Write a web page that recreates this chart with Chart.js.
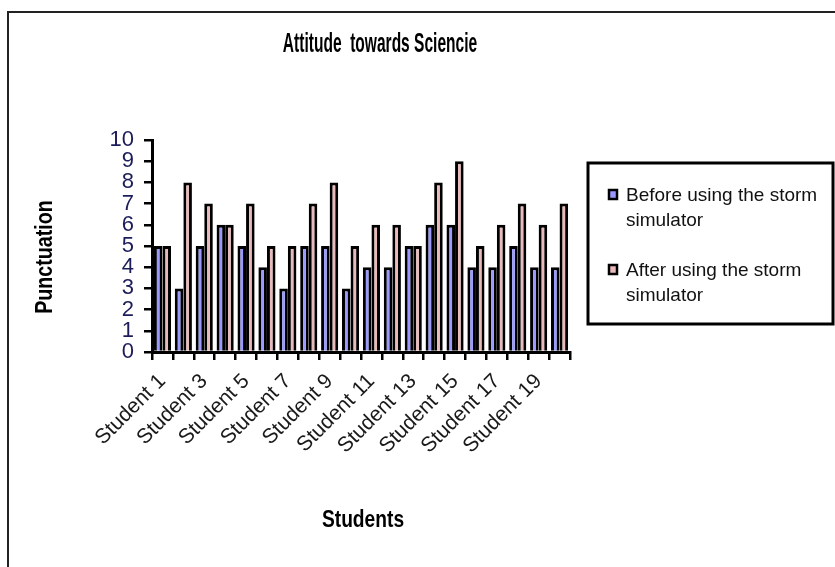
<!DOCTYPE html>
<html>
<head>
<meta charset="utf-8">
<script src="https://cdn.jsdelivr.net/npm/chart.js@4"></script>
<style>
  body { margin: 0; background: #fff; }
  canvas { display: block; }
</style>
</head>
<body>
<canvas id="actitud" width="835" height="567"></canvas>
<script>
const students = ['Student 1', 'Student 2', 'Student 3', 'Student 4', 'Student 5',
    'Student 6', 'Student 7', 'Student 8', 'Student 9', 'Student 10',
    'Student 11', 'Student 12', 'Student 13', 'Student 14', 'Student 15',
    'Student 16', 'Student 17', 'Student 18', 'Student 19', 'Student 20'];
const before = [5, 3, 5, 6, 5, 4, 3, 5, 5, 3, 4, 4, 5, 6, 6, 4, 4, 5, 4, 4];
const after = [5, 8, 7, 6, 7, 5, 5, 7, 8, 5, 6, 6, 5, 8, 9, 5, 6, 7, 6, 7];
const yTicks = [0, 1, 2, 3, 4, 5, 6, 7, 8, 9, 10];
const chartTitle = 'Attitude  towards Sciencie';
const xTitle = 'Students';
const yTitle = 'Punctuation';

const FONT = '"Liberation Sans", Arial, sans-serif';

document.addEventListener('DOMContentLoaded', function () {
    const ctx = document.getElementById('actitud').getContext('2d');

    // texto estrecho (el original esta comprimido en horizontal)
    function narrowText(c, text, x, y, sx, angle) {
        c.save();
        c.translate(x, y);
        if (angle) c.rotate(angle);
        c.scale(sx, 1);
        c.fillText(text, 0, 0);
        c.restore();
    }

    // marco exterior, titulos y leyenda dibujados a mano
    const extras = {
        id: 'extras',
        beforeDraw(chart) {
            const c = chart.ctx;
            c.save();
            c.fillStyle = '#fff';
            c.fillRect(0, 0, chart.width, chart.height);
            c.strokeStyle = '#222';
            c.lineWidth = 2;
            c.strokeRect(8, 12, 900, 700);
            c.restore();
        },
        afterDraw(chart) {
            const c = chart.ctx;
            const area = chart.chartArea;
            c.save();
            c.fillStyle = '#000';
            c.textAlign = 'center';
            c.textBaseline = 'middle';
            c.font = 'bold 28px ' + FONT;
            narrowText(c, chartTitle, 380, 44, 0.555, 0);

            c.font = 'bold 24px ' + FONT;
            narrowText(c, xTitle, (area.left + area.right) / 2 + 2, 520, 0.8, 0);
            narrowText(c, yTitle, 45, 257, 0.82, -Math.PI / 2);

            // leyenda
            c.strokeStyle = '#000';
            c.lineWidth = 3;
            c.strokeRect(588, 163, 245, 161);
            c.font = '19px ' + FONT;
            c.textAlign = 'left';
            chart.data.datasets.forEach(function (ds, i) {
                const y0 = 196 + i * 75;
                c.fillStyle = ds.backgroundColor;
                c.fillRect(609, y0 - 6, 8, 9);
                c.lineWidth = 2.5;
                c.strokeRect(609, y0 - 6, 8, 9);
                c.fillStyle = '#111';
                const words = ds.label.split(' ');
                let line = '';
                let ly = y0;
                words.forEach(function (w) {
                    const test = line ? line + ' ' + w : w;
                    if (c.measureText(test).width > 205 && line) {
                        c.fillText(line, 626, ly);
                        line = w;
                        ly += 25;
                    } else {
                        line = test;
                    }
                });
                c.fillText(line, 626, ly);
            });
            c.restore();
        }
    };

    new Chart(ctx, {
        type: 'bar',
        data: {
            labels: students,
            datasets: [{
                label: 'Before using the storm simulator',
                data: before,
                backgroundColor: '#9999ff',
                borderColor: '#000',
                borderWidth: 3,
                categoryPercentage: 0.82,
                barPercentage: 1
            }, {
                label: 'After using the storm simulator',
                data: after,
                backgroundColor: '#eab9b9',
                borderColor: '#000',
                borderWidth: 3,
                categoryPercentage: 0.82,
                barPercentage: 1
            }]
        },
        options: {
            responsive: false,
            animation: false,
            layout: {
                padding: { left: 25, top: 140, right: 265, bottom: 25 }
            },
            plugins: {
                legend: { display: false },
                title: { display: false },
                tooltip: { enabled: false }
            },
            scales: {
                x: {
                    afterFit: function (scale) { scale.height = 190; },
                    border: { color: '#000', width: 3 },
                    grid: {
                        offset: true,
                        drawOnChartArea: false,
                        drawTicks: true,
                        tickLength: 8,
                        color: '#000',
                        lineWidth: 2.5
                    },
                    ticks: {
                        autoSkip: false,
                        minRotation: 45,
                        maxRotation: 45,
                        padding: 9,
                        color: '#1a1a1a',
                        font: { family: FONT, size: 21 },
                        callback: function (val, idx) {
                            return idx % 2 === 0 ? this.getLabelForValue(val) : '';
                        }
                    }
                },
                y: {
                    min: 0,
                    max: 10,
                    afterFit: function (scale) { scale.width = 127; },
                    afterBuildTicks: function (scale) {
                        scale.ticks = yTicks.map(v => ({ value: v }));
                    },
                    border: { color: '#000', width: 3 },
                    grid: {
                        drawOnChartArea: false,
                        drawTicks: true,
                        tickLength: 8,
                        color: '#000',
                        lineWidth: 2.5
                    },
                    ticks: {
                        autoSkip: false,
                        padding: 10,
                        color: '#1c1c5a',
                        font: { family: FONT, size: 22 }
                    }
                }
            }
        },
        plugins: [extras]
    });
});
</script>
</body>
</html>
